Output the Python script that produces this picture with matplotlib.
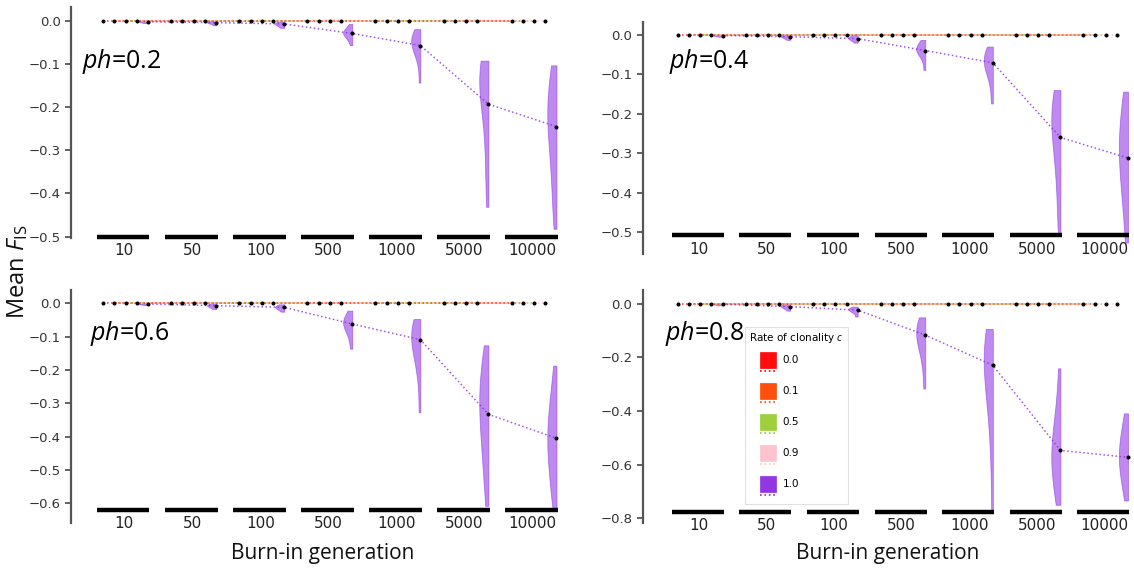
import numpy as np
import matplotlib
matplotlib.use('Agg')
import matplotlib.pyplot as plt
from matplotlib.patches import Rectangle
from matplotlib.lines import Line2D
from matplotlib.legend_handler import HandlerBase

plt.rcParams['font.family'] = ['DejaVu Sans']
plt.rcParams['mathtext.fontset'] = 'custom'
plt.rcParams['mathtext.rm'] = 'Open Sans'
plt.rcParams['mathtext.it'] = 'Open Sans:italic'
plt.rcParams['mathtext.bf'] = 'Open Sans:bold'

# ---------------- data ----------------
generations = ['10', '50', '100', '500', '1000', '5000', '10000']
clonality = ['0.0', '0.1', '0.5', '0.9', '1.0']
clone_colors = ['#FF0000', '#FF4500', '#9ACD32', '#FFC0CB', '#8A2BE2']
ph_labels = ['0.2', '0.4', '0.6', '0.8']

# mean F_IS for c = 0.0, 0.1, 0.5, 0.9 (all panels)
mean_c_low = [0.0, 0.0, 0.0, 0.0, 0.0, 0.0, 0.0]

# mean F_IS for c = 1.0
mean_c1_ph02 = [-0.002, -0.004, -0.007, -0.029, -0.057, -0.193, -0.245]
mean_c1_ph04 = [-0.002, -0.005, -0.010, -0.040, -0.071, -0.260, -0.312]
mean_c1_ph06 = [-0.002, -0.007, -0.012, -0.062, -0.109, -0.333, -0.405]
mean_c1_ph08 = [-0.002, -0.011, -0.024, -0.117, -0.230, -0.547, -0.573]

# distribution of replicate F_IS values for c = 1.0 (violins)
dist_c1_ph02 = [
    [0.0, -0.001, -0.002, -0.003, -0.005],
    [0.0, -0.002, -0.003, -0.004, -0.006, -0.010],
    [-0.001, -0.004, -0.006, -0.008, -0.011, -0.016],
    [-0.007, -0.018, -0.022, -0.025, -0.028, -0.031, -0.036, -0.042, -0.056],
    [-0.019, -0.030, -0.036, -0.042, -0.048, -0.055, -0.062, -0.075, -0.095, -0.143],
    [-0.092, -0.10, -0.11, -0.12, -0.135, -0.15, -0.17, -0.20, -0.24, -0.30, -0.37, -0.431],
    [-0.103, -0.13, -0.16, -0.19, -0.21, -0.23, -0.25, -0.28, -0.32, -0.37, -0.42, -0.482],
]
dist_c1_ph04 = [
    [0.0, -0.001, -0.002, -0.003, -0.005],
    [0.0, -0.003, -0.004, -0.006, -0.008, -0.013],
    [0.0, -0.005, -0.008, -0.010, -0.013, -0.020],
    [-0.013, -0.025, -0.030, -0.034, -0.038, -0.042, -0.048, -0.060, -0.089],
    [-0.030, -0.045, -0.055, -0.062, -0.070, -0.080, -0.095, -0.120, -0.174],
    [-0.14, -0.16, -0.18, -0.20, -0.22, -0.24, -0.27, -0.31, -0.36, -0.43, -0.507],
    [-0.144, -0.18, -0.22, -0.25, -0.28, -0.30, -0.33, -0.36, -0.40, -0.45, -0.526],
]
dist_c1_ph06 = [
    [0.0, -0.001, -0.002, -0.003, -0.005],
    [0.0, -0.004, -0.006, -0.008, -0.011, -0.017],
    [-0.003, -0.008, -0.011, -0.013, -0.017, -0.025],
    [-0.022, -0.040, -0.048, -0.055, -0.062, -0.070, -0.080, -0.100, -0.136],
    [-0.047, -0.060, -0.075, -0.090, -0.105, -0.12, -0.14, -0.17, -0.22, -0.327],
    [-0.126, -0.18, -0.22, -0.25, -0.28, -0.31, -0.34, -0.38, -0.42, -0.47, -0.53, -0.608],
    [-0.187, -0.27, -0.31, -0.35, -0.38, -0.41, -0.44, -0.47, -0.51, -0.56, -0.62],
]
dist_c1_ph08 = [
    [0.0, -0.001, -0.002, -0.004, -0.006],
    [0.0, -0.006, -0.009, -0.012, -0.016, -0.026],
    [-0.011, -0.018, -0.021, -0.024, -0.029, -0.048],
    [-0.051, -0.075, -0.090, -0.105, -0.12, -0.14, -0.17, -0.22, -0.316],
    [-0.094, -0.12, -0.15, -0.18, -0.21, -0.24, -0.28, -0.34, -0.42, -0.55, -0.775],
    [-0.241, -0.38, -0.45, -0.50, -0.54, -0.57, -0.60, -0.64, -0.69, -0.75],
    [-0.409, -0.47, -0.51, -0.54, -0.57, -0.60, -0.63, -0.67, -0.734],
]

# ---------------- layout ----------------
W, H = 1134, 570
fig = plt.figure(figsize=(W / 100, H / 100), dpi=100)


def px_rect(l, t, r, b):
    return [l / W, 1 - b / H, (r - l) / W, (b - t) / H]


panels = [
    dict(ph=ph_labels[0], means=mean_c1_ph02, dist=dist_c1_ph02, rect=(71.2, 6.7, 573.5, 238.3),
         xlim=(-0.78, 6.6), ylim=(-0.504, 0.033), step=0.1, ymin_tick=-0.5, bar=-0.5,
         txt=(81.7, 61.7), xlabel=False),
    dict(ph=ph_labels[1], means=mean_c1_ph04, dist=dist_c1_ph04, rect=(642.8, 21.7, 1133.4, 254),
         xlim=(-0.83, 6.43), ylim=(-0.555, 0.033), step=0.1, ymin_tick=-0.5, bar=-0.508,
         txt=(669, 61.7), xlabel=False),
    dict(ph=ph_labels[2], means=mean_c1_ph06, dist=dist_c1_ph06, rect=(71.2, 290, 573.5, 523.3),
         xlim=(-0.78, 6.6), ylim=(-0.66, 0.04), step=0.1, ymin_tick=-0.6, bar=-0.619,
         txt=(90, 333), xlabel=True),
    dict(ph=ph_labels[3], means=mean_c1_ph08, dist=dist_c1_ph08, rect=(642.8, 290, 1133.4, 523.3),
         xlim=(-0.83, 6.43), ylim=(-0.819, 0.051), step=0.2, ymin_tick=-0.8, bar=-0.777,
         txt=(665, 333), xlabel=True),
]

offsets = np.array([-0.31, -0.145, 0.02, 0.185, 0.35])
xidx = np.arange(len(generations))

for p in panels:
    ax = fig.add_axes(px_rect(*p['rect']))
    ax.set_xlim(*p['xlim'])
    ax.set_ylim(*p['ylim'])
    for s in ['top', 'right']:
        ax.spines[s].set_visible(False)
    # x axis sits on the group bars
    ax.spines['bottom'].set_position(('data', p['bar']))
    ax.spines['bottom'].set_visible(False)
    ax.spines['left'].set_color('#555555')
    ax.spines['left'].set_linewidth(1.6)

    # violins for c = 1.0
    vp = ax.violinplot(p['dist'], positions=xidx + offsets[4], widths=0.27,
                       showextrema=False, showmeans=False, showmedians=False, side='low')
    for body in vp['bodies']:
        body.set_facecolor(clone_colors[4])
        body.set_edgecolor(clone_colors[4])
        body.set_linewidth(0.6)
        body.set_alpha(0.55)

    # mean lines + dots
    series = [mean_c_low, mean_c_low, mean_c_low, mean_c_low, p['means']]
    for k, (vals, col) in enumerate(zip(series, clone_colors)):
        xs = xidx + offsets[k]
        ax.plot(xs, vals, linestyle=':', color=col, lw=1.1, alpha=0.8, zorder=3)
    for k, vals in enumerate(series):
        xs = xidx + offsets[k]
        ax.plot(xs, vals, linestyle='none', marker='o', ms=1.9, color='black', zorder=4)

    # group bars along the bottom
    ax.hlines([p['bar']] * len(generations), xidx - 0.40, xidx + 0.37, color='black',
              lw=3.2, clip_on=False, zorder=5)

    yt = np.round(np.arange(0, p['ymin_tick'] - 1e-9, -p['step']), 2)
    ax.set_yticks(yt)
    ax.tick_params(axis='y', colors='#555555', labelcolor='#333333', labelsize=9.5,
                   length=4, width=1.3, direction='out')
    ax.set_xticks(xidx)
    ax.set_xticklabels(generations)
    ax.tick_params(axis='x', length=0, labelsize=11, labelcolor='#222222', pad=4.5)

    fig.text(p['txt'][0] / W, 1 - p['txt'][1] / H, r'$ph$=' + p['ph'],
             fontsize=18, family='Open Sans', va='center', ha='left', color='black')

    if p['xlabel']:
        l, t, r, b = p['rect']
        fig.text((l + r) / 2 / W, 1 - 553 / H, 'Burn-in generation', fontsize=15,
                 family='Open Sans', ha='center', va='center', color='#111111')

fig.text(18 / W, 1 - 272 / H, r'Mean $F_{\mathrm{IS}}$', rotation=90, fontsize=17,
         family='Open Sans', ha='center', va='center', color='#111111')


# ---------------- legend ----------------
class SwatchHandler(HandlerBase):
    def create_artists(self, legend, orig_handle, xdescent, ydescent, width, height,
                       fontsize, trans):
        col = orig_handle.get_color()
        side = 11.5
        x0 = -xdescent + 8.0
        yc = 0.36 * fontsize  # vertical centre of the label digits
        rect = Rectangle((x0, yc - side / 2), side, side, facecolor=col, edgecolor=col,
                         lw=0.5, alpha=0.95, transform=trans)
        yl = yc - side / 2 - 2.2
        ln = Line2D([x0, x0 + side], [yl, yl], linestyle=':', color=col, lw=1.2,
                    transform=trans)
        return [rect, ln]


handles = [Line2D([], [], color=c) for c in clone_colors]
leg = fig.legend(handles, clonality, loc='upper left',
                 bbox_to_anchor=(745 / W, 1 - 327 / H), borderaxespad=0,
                 title=r'Rate of clonality $c$', title_fontsize=7.5, fontsize=7.5,
                 handler_map={Line2D: SwatchHandler()}, handlelength=2.6,
                 handleheight=4.2, labelspacing=0.0, handletextpad=0.6,
                 borderpad=0.4, alignment='left', frameon=True, fancybox=False,
                 edgecolor='#dddddd', framealpha=0.9)
leg.get_frame().set_linewidth(0.8)

fig.savefig('out.png', dpi=100)
